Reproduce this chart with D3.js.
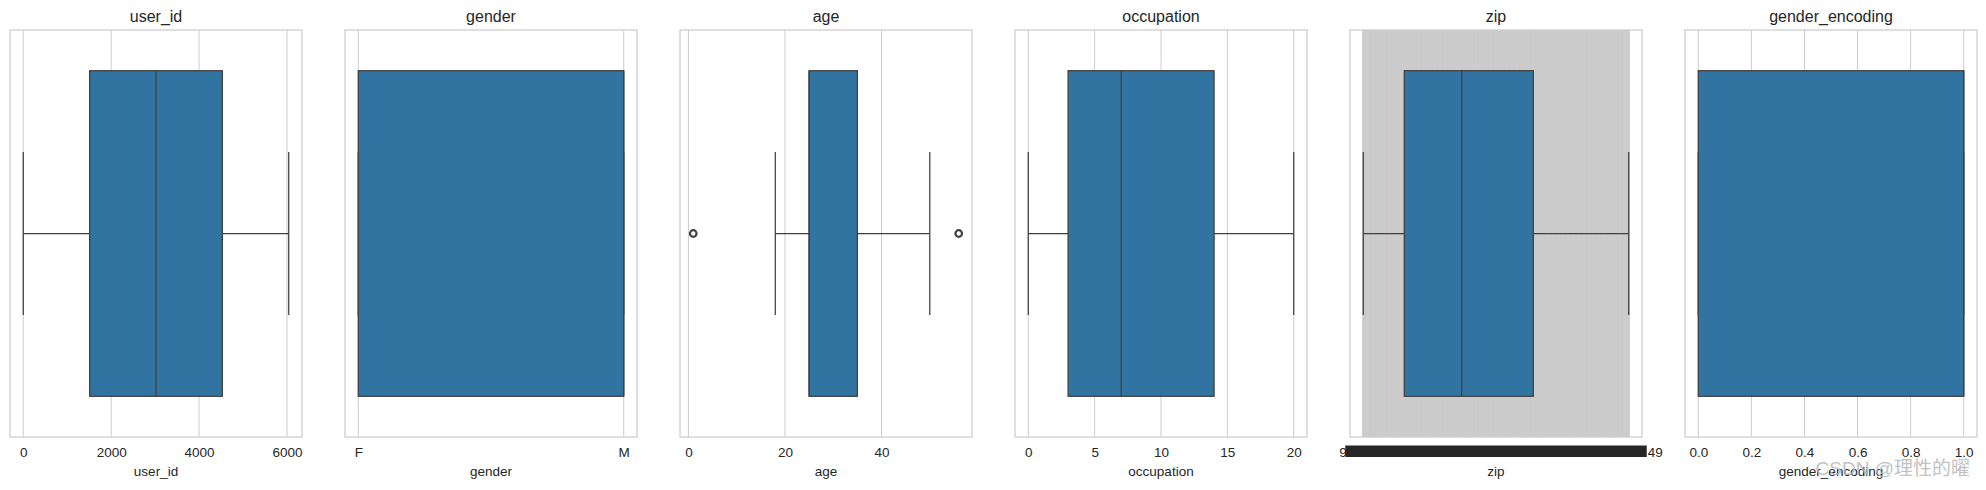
<!DOCTYPE html>
<html>
<head>
<meta charset="utf-8">
<script src="https://cdn.jsdelivr.net/npm/d3@7"></script>
<style>
  body { margin: 0; background: #fff; }
  text { font-family: "Liberation Sans", Arial, sans-serif; fill: #262626; }
</style>
</head>
<body>
<script>
// one boxplot per column
var columns = ["user_id", "gender", "age", "occupation", "zip", "gender_encoding"];
var dataMin = [1, 0, 1, 0, 0, 0];
var dataMax = [6040, 1, 56, 20, 3438, 1];
var whiskerLow = [1, 0, 18, 0, 0, 0];
var q1 = [1510.75, 0, 25, 3, 531, 0];
var median = [3020.5, 1, 25, 7, 1275, 1];
var q3 = [4530.25, 1, 35, 14, 2202, 1];
var whiskerHigh = [6040, 1, 50, 20, 3438, 1];
var outliers = [[], [], [1, 56], [], [], []];

var userIdTicks = [0, 2000, 4000, 6000];
var genderTicks = ["F", "M"];
var ageTicks = [0, 20, 40];
var occupationTicks = [0, 5, 10, 15, 20];
var zipCount = 3439;
var genderEncodingTicks = [0, 0.2, 0.4, 0.6, 0.8, 1.0];

(function () {
var W = 1986, H = 490;
var plotTop = 30, plotBottom = 437, pw = 292, gap = 335, left0 = 10;
var boxColor = "#3274a1", lineColor = "#3f3f3f", gridColor = "#cccccc";

var svg = d3.select("body").append("svg")
  .attr("width", W).attr("height", H);

var y = d3.scaleLinear().domain([-0.5, 0.5]).range([plotTop, plotBottom]);

columns.forEach(function (col, i) {
  var x0 = left0 + i * gap;
  var pad = (dataMax[i] - dataMin[i]) * 0.05;
  var x = d3.scaleLinear().domain([dataMin[i] - pad, dataMax[i] + pad]).range([x0, x0 + pw]);
  var g = svg.append("g");

  // ticks + grid
  var tickVals, tickFmt;
  if (i == 0) { tickVals = userIdTicks; tickFmt = d3.format("d"); }
  else if (i == 1) { tickVals = [0, 1]; tickFmt = function (d) { return genderTicks[d]; }; }
  else if (i == 2) { tickVals = ageTicks; tickFmt = d3.format("d"); }
  else if (i == 3) { tickVals = occupationTicks; tickFmt = d3.format("d"); }
  else if (i == 4) { tickVals = d3.range(zipCount); tickFmt = null; }
  else { tickVals = genderEncodingTicks; tickFmt = d3.format(".1f"); }

  g.selectAll("line.grid").data(tickVals).enter().append("line")
    .attr("x1", function (d) { return x(d); }).attr("x2", function (d) { return x(d); })
    .attr("y1", plotTop).attr("y2", plotBottom)
    .attr("stroke", gridColor).attr("stroke-width", i == 4 ? 1.6 : 1);

  if (tickFmt) {
    var axis = d3.axisBottom(x).tickValues(tickVals).tickFormat(tickFmt).tickSize(0).tickPadding(10);
    var ax = g.append("g").attr("transform", "translate(0," + plotBottom + ")").call(axis);
    ax.select(".domain").remove();
    ax.selectAll("text").attr("font-size", null).style("font-size", "13.5px").attr("fill", "#262626")
      .attr("font-family", null);
  } else {
    // thousands of zip labels collapse into a dark bar
    g.append("rect")
      .attr("x", x(0) - 18).attr("y", 445.5)
      .attr("width", x(zipCount - 1) - x(0) + 36).attr("height", 11.5)
      .attr("fill", "#262626");
    g.append("text").attr("x", x(0) - 24).attr("y", 456.5).style("font-size", "13.5px").text("9");
    g.append("text").attr("x", x(zipCount - 1) + 34).attr("y", 456.5)
      .attr("text-anchor", "end").style("font-size", "13.5px").text("49");
  }

  // frame
  g.append("rect").attr("x", x0).attr("y", plotTop).attr("width", pw).attr("height", plotBottom - plotTop)
    .attr("fill", "none").attr("stroke", gridColor).attr("stroke-width", 1.25);

  // whiskers
  var cy = y(0);
  g.append("line").attr("x1", x(whiskerLow[i])).attr("x2", x(q1[i])).attr("y1", cy).attr("y2", cy)
    .attr("stroke", lineColor).attr("stroke-width", 1.25);
  g.append("line").attr("x1", x(q3[i])).attr("x2", x(whiskerHigh[i])).attr("y1", cy).attr("y2", cy)
    .attr("stroke", lineColor).attr("stroke-width", 1.25);
  [whiskerLow[i], whiskerHigh[i]].forEach(function (v) {
    g.append("line").attr("x1", x(v)).attr("x2", x(v)).attr("y1", y(-0.2)).attr("y2", y(0.2))
      .attr("stroke", lineColor).attr("stroke-width", 1.25);
  });

  // box
  g.append("rect").attr("x", x(q1[i])).attr("y", y(-0.4))
    .attr("width", x(q3[i]) - x(q1[i])).attr("height", y(0.4) - y(-0.4))
    .attr("fill", boxColor).attr("stroke", lineColor).attr("stroke-width", 1.25);
  g.append("line").attr("x1", x(median[i])).attr("x2", x(median[i]))
    .attr("y1", y(-0.4)).attr("y2", y(0.4))
    .attr("stroke", lineColor).attr("stroke-width", 1.25);

  // fliers
  g.selectAll("circle").data(outliers[i]).enter().append("circle")
    .attr("cx", function (d) { return x(d); }).attr("cy", cy).attr("r", 3.3)
    .attr("fill", "none").attr("stroke", lineColor).attr("stroke-width", 2.2);

  // title and x label
  g.append("text").attr("x", x0 + pw / 2).attr("y", 22).attr("text-anchor", "middle")
    .style("font-size", "16px").text(col);
  g.append("text").attr("x", x0 + pw / 2).attr("y", 476).attr("text-anchor", "middle")
    .style("font-size", "13.5px").text(col);
});

// watermark
svg.append("text").attr("x", 1970).attr("y", 475).attr("text-anchor", "end")
  .style("font-size", "19px").style("fill", "#b8b8b8").style("opacity", 0.85)
  .style("font-family", "'Liberation Sans', 'Noto Sans CJK SC', sans-serif")
  .text("CSDN @理性的曜");
})();
</script>
</body>
</html>
